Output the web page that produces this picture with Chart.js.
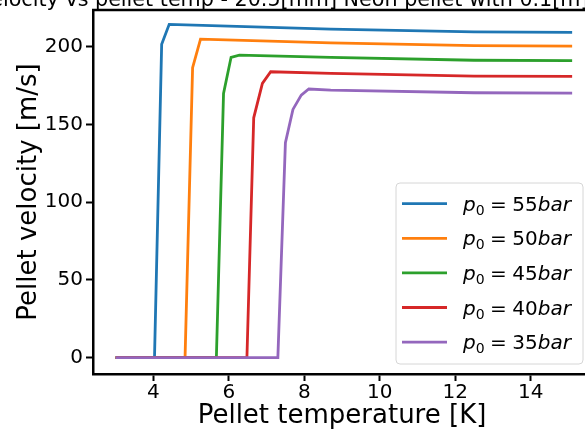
<!DOCTYPE html>
<html>
<head>
<meta charset="utf-8">
<script src="https://cdn.jsdelivr.net/npm/chart.js@4.4.1/dist/chart.umd.min.js"></script>
<style>
html, body { margin: 0; padding: 0; overflow: hidden; background: #fff; }
#wrap { position: relative; width: 600px; height: 432px; }
</style>
</head>
<body>
<div id="wrap"><canvas id="velChart" width="600" height="432"></canvas></div>
<script>
// values
const pressures = [55, 50, 45, 40, 35];
const colors = ['#1f77b4', '#ff7f0e', '#2ca02c', '#d62728', '#9467bd'];

const temp55 = [3.0, 4.03, 4.22, 4.42, 8.7, 12.5, 15.1];
const vel55  = [0, 0, 201.4, 214.3, 211.2, 209.5, 209.1];
const temp50 = [3.0, 4.84, 5.04, 5.25, 8.7, 12.5, 15.1];
const vel50  = [0, 0, 186.4, 204.8, 202.4, 200.6, 200.3];
const temp45 = [3.0, 5.67, 5.86, 6.06, 6.28, 8.7, 12.5, 15.1];
const vel45  = [0, 0, 169.9, 193.1, 194.5, 193.1, 191.2, 190.9];
const temp40 = [3.0, 6.48, 6.66, 6.89, 7.11, 8.7, 12.5, 15.1];
const vel40  = [0, 0, 154.2, 176.3, 183.8, 182.8, 181.0, 180.8];
const temp35 = [3.0, 7.30, 7.50, 7.70, 7.92, 8.12, 8.7, 12.5, 15.1];
const vel35  = [0, 0, 138.2, 159.6, 168.8, 172.7, 172.0, 170.3, 170.1];

const temps = [temp55, temp50, temp45, temp40, temp35];
const vels = [vel55, vel50, vel45, vel40, vel35];

const xTicks = [4, 6, 8, 10, 12, 14];
const yTicks = [0, 50, 100, 150, 200];

const titleText = 'Pellet velocity vs pellet temp - 20.5[mm] Neon pellet with 0.1[m]';
const FONT = "'DejaVu Sans', sans-serif";

const datasets = pressures.map((p, i) => ({
    label: 'p0 = ' + p + 'bar',
    data: temps[i].map((t, j) => ({ x: t, y: vels[i][j] })),
    borderColor: colors[i],
    backgroundColor: colors[i],
    borderWidth: 2.8,
    pointRadius: 0,
    tension: 0,
    order: pressures.length - i
}));

// cut-off title at the very top
const titlePlugin = {
    id: 'cutTitle',
    afterDraw(chart) {
        const ctx = chart.ctx;
        ctx.save();
        ctx.font = '20.7px ' + FONT;
        ctx.fillStyle = '#000';
        ctx.textBaseline = 'alphabetic';
        const lead = ctx.measureText('Pellet velocity vs ').width;
        ctx.fillText(titleText, 95 - lead, 6);
        ctx.restore();
    }
};

// top spine
const framePlugin = {
    id: 'frame',
    afterDatasetsDraw(chart) {
        const { ctx, chartArea } = chart;
        ctx.save();
        ctx.strokeStyle = '#000';
        ctx.lineWidth = 2.5;
        ctx.beginPath();
        ctx.moveTo(chartArea.left - 1, chartArea.top);
        ctx.lineTo(chartArea.right + 1, chartArea.top);
        ctx.stroke();
        ctx.restore();
    }
};

// matplotlib-like legend with mathtext labels
const legendPlugin = {
    id: 'mplLegend',
    afterDraw(chart) {
        const ctx = chart.ctx;
        const x0 = 396, y0 = 183, w = 187, h = 181, r = 4;
        ctx.save();
        ctx.beginPath();
        ctx.roundRect(x0, y0, w, h, r);
        ctx.fillStyle = 'rgba(255,255,255,0.8)';
        ctx.fill();
        ctx.strokeStyle = '#d6d6d6';
        ctx.lineWidth = 1;
        ctx.stroke();
        chart.data.datasets.forEach((ds, i) => {
            const cy = 203.7 + i * 34.6;
            ctx.strokeStyle = ds.borderColor;
            ctx.lineWidth = 2.8;
            ctx.beginPath();
            ctx.moveTo(402, cy);
            ctx.lineTo(447, cy);
            ctx.stroke();

            const base = cy + 7;
            let x = 463;
            ctx.fillStyle = '#000';
            ctx.textBaseline = 'alphabetic';
            ctx.font = 'italic 20px ' + FONT;
            ctx.fillText('p', x, base);
            x += ctx.measureText('p').width;
            ctx.font = '14px ' + FONT;
            ctx.fillText('0', x, base + 4);
            x += ctx.measureText('0').width + 5.5;
            ctx.font = '20px ' + FONT;
            ctx.fillText('=', x, base);
            x += ctx.measureText('=').width + 5.5;
            const num = String(pressures[i]);
            ctx.fillText(num, x, base);
            x += ctx.measureText(num).width;
            ctx.font = 'italic 20px ' + FONT;
            ctx.fillText('bar', x, base);
        });
        ctx.restore();
    }
};

new Chart(document.getElementById('velChart'), {
    type: 'line',
    data: { datasets: datasets },
    options: {
        responsive: false,
        animation: false,
        devicePixelRatio: 1,
        layout: { padding: { left: 0, right: 9, top: 10, bottom: 0 } },
        plugins: {
            legend: { display: false },
            tooltip: { enabled: false },
            title: { display: false }
        },
        scales: {
            x: {
                type: 'linear',
                min: 2.4,
                max: 15.6,
                afterBuildTicks: s => { s.ticks = xTicks.map(v => ({ value: v })); },
                afterFit: s => { s.height = 58; s.paddingLeft = 0; s.paddingRight = 0; },
                grid: { drawOnChartArea: false, tickLength: 7, tickWidth: 2, tickColor: '#000' },
                border: { color: '#000', width: 2.5 },
                ticks: { color: '#000', font: { family: FONT, size: 20 }, padding: 0, maxRotation: 0 },
                title: {
                    display: true, text: 'Pellet temperature [K]', color: '#000',
                    font: { family: FONT, size: 26 }, padding: { top: 5, bottom: 0 }
                }
            },
            y: {
                type: 'linear',
                min: -10.5,
                max: 223.5,
                afterBuildTicks: s => { s.ticks = yTicks.map(v => ({ value: v })); },
                afterFit: s => { s.width = 93; s.paddingTop = 0; s.paddingBottom = 0; },
                grid: { drawOnChartArea: false, tickLength: 7, tickWidth: 2, tickColor: '#000' },
                border: { color: '#000', width: 2.5 },
                ticks: { color: '#000', font: { family: FONT, size: 20 }, padding: 3 },
                title: {
                    display: true, text: 'Pellet velocity [m/s]', color: '#000',
                    font: { family: FONT, size: 26 }, padding: { top: 14, bottom: 0 }
                }
            }
        }
    },
    plugins: [titlePlugin, framePlugin, legendPlugin]
});
</script>
</body>
</html>
